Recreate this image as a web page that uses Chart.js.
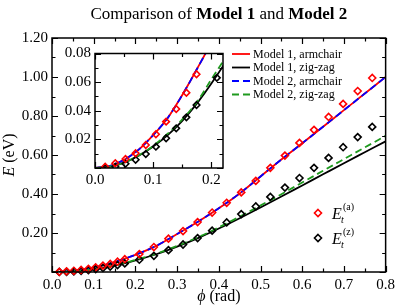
<!DOCTYPE html>
<html>
<head>
<meta charset="utf-8">
<script src="https://cdn.jsdelivr.net/npm/chart.js@4.4.0/dist/chart.umd.min.js"></script>
<style>
html,body{margin:0;padding:0;background:#fff;}
#wrap{position:relative;width:399px;height:308px;}
#main{position:absolute;left:0;top:0;}
#inset{position:absolute;left:50px;top:40px;}
</style>
</head>
<body>
<div id="wrap">
<canvas id="main" width="399" height="308"></canvas>
<canvas id="inset" width="180" height="150"></canvas>
</div>
<script>
// ---- data ----
const markerPhi = [0.0175,0.0349,0.0524,0.0698,0.0873,0.1047,0.1222,0.1396,0.1571,0.1745,0.2094,0.2443,0.2793,0.3142,0.3491,0.3840,0.4189,0.4538,0.4887,0.5236,0.5585,0.5934,0.6283,0.6632,0.6981,0.7330,0.7679];
const armE = [0.0009,0.0033,0.0063,0.0103,0.0161,0.0236,0.0324,0.0412,0.0526,0.0655,0.092,0.128,0.171,0.210,0.256,0.305,0.355,0.408,0.467,0.534,0.597,0.662,0.729,0.795,0.862,0.928,0.995];
const zigE = [0.0003,0.0009,0.0030,0.0058,0.0098,0.0149,0.0208,0.0277,0.0354,0.0440,0.063,0.083,0.112,0.141,0.174,0.212,0.254,0.297,0.336,0.385,0.433,0.482,0.534,0.585,0.640,0.692,0.744];
const linePhi = [0,0.025,0.05,0.075,0.1,0.125,0.15,0.175,0.2,0.25,0.3,0.35,0.4,0.45,0.5,0.55,0.6,0.65,0.7,0.75,0.8];
const m1Arm = [0,0.0014,0.0057,0.0128,0.023,0.035,0.051,0.069,0.088,0.134,0.195,0.258,0.327,0.403,0.49,0.577,0.66,0.745,0.83,0.915,1.0];
const m2Arm = [0,0.0014,0.0057,0.0128,0.023,0.035,0.051,0.069,0.088,0.134,0.195,0.258,0.327,0.403,0.49,0.577,0.66,0.745,0.83,0.915,1.0];
const m1Zig = [0,0.0009,0.0037,0.0085,0.015,0.023,0.033,0.045,0.059,0.091,0.130,0.174,0.223,0.276,0.331,0.387,0.444,0.501,0.558,0.614,0.670];
const m2Zig = [0,0.0009,0.0038,0.0087,0.0155,0.024,0.034,0.046,0.062,0.094,0.134,0.178,0.229,0.284,0.341,0.399,0.459,0.519,0.579,0.639,0.698];
const xTicksMain = [0,0.1,0.2,0.3,0.4,0.5,0.6,0.7,0.8];
const yTicksMain = [0.2,0.4,0.6,0.8,1.0,1.2];
const xTicksInset = [0,0.1,0.2];
const yTicksInset = [0.02,0.04,0.06,0.08];
const seriesNames = ['Model 1, armchair','Model 1, zig-zag','Model 2, armchair','Model 2, zig-zag'];

const RED='#ff0000', BLACK='#000000', BLUE='#0000ff', GREEN='#1f9a1f';
const SERIF = '"Liberation Serif", "DejaVu Serif", serif';
Chart.defaults.font.family = SERIF;
Chart.defaults.color = '#000';

const pts = (xs, ys) => xs.map((x,i)=>({x:x, y:ys[i]}));

function makeDatasets(lw, mr, clipMarkers){
  const line = (lbl, ys, col, dash, ord) => ({
    label: lbl, data: pts(linePhi, ys), borderColor: col, borderWidth: lw,
    borderDash: dash, pointRadius: 0, showLine: true, fill: false,
    cubicInterpolationMode: 'monotone', order: ord
  });
  const mk = (lbl, ys, col) => {
    const d = {
      label: lbl, data: pts(markerPhi, ys), borderColor: col, backgroundColor: 'rgba(0,0,0,0)',
      pointStyle: 'rectRot', pointRadius: mr, pointBorderWidth: 1.6, showLine: false, order: 0
    };
    if (!clipMarkers) d.clip = false;
    return d;
  };
  return [
    line(seriesNames[0], m1Arm, RED, [], 4),
    line(seriesNames[1], m1Zig, BLACK, [], 3),
    line(seriesNames[2], m2Arm, BLUE, [7,4], 2),
    line(seriesNames[3], m2Zig, GREEN, [7,4], 1),
    mk('E_t(a)', armE, RED),
    mk('E_t(z)', zigE, BLACK)
  ];
}

function frameTicks(xMinor, yMinor){
  return {
    id: 'frameTicks',
    afterDatasetsDraw(chart){
      const {ctx, chartArea:a, scales:{x,y}} = chart;
      ctx.save();
      ctx.strokeStyle = '#000';
      ctx.lineWidth = 1.5;
      ctx.strokeRect(a.left, a.top, a.right-a.left, a.bottom-a.top);
      ctx.lineWidth = 1.2;
      const eps = 1e-9;
      for (let v = x.min; v <= x.max + eps; v += xMinor){
        const vv = Math.round(v/xMinor)*xMinor;
        const major = Math.abs(vv/ (xMinor*2) - Math.round(vv/(xMinor*2))) < 1e-6;
        const L = major ? 6 : 3.5;
        const px = Math.round(x.getPixelForValue(vv))+0.5;
        ctx.beginPath();
        ctx.moveTo(px, a.bottom); ctx.lineTo(px, a.bottom-L);
        ctx.moveTo(px, a.top); ctx.lineTo(px, a.top+L);
        ctx.stroke();
      }
      for (let v = y.min; v <= y.max + eps; v += yMinor){
        const vv = Math.round(v/yMinor)*yMinor;
        const major = Math.abs(vv/(yMinor*2) - Math.round(vv/(yMinor*2))) < 1e-6;
        const L = major ? 6 : 3.5;
        const py = Math.round(y.getPixelForValue(vv))+0.5;
        ctx.beginPath();
        ctx.moveTo(a.left, py); ctx.lineTo(a.left+L, py);
        ctx.moveTo(a.right, py); ctx.lineTo(a.right-L, py);
        ctx.stroke();
      }
      ctx.restore();
    }
  };
}

function drawRich(ctx, parts, x, y, align){
  let w = 0;
  parts.forEach(p=>{ ctx.font = p.f; w += ctx.measureText(p.t).width; });
  let cx = align==='center' ? x - w/2 : x;
  parts.forEach(p=>{ ctx.font = p.f; ctx.fillText(p.t, cx, y); cx += ctx.measureText(p.t).width; });
}

const annotations = {
  id: 'annotations',
  afterDraw(chart){
    const {ctx, chartArea:a} = chart;
    ctx.save();
    ctx.fillStyle = '#000';
    ctx.textBaseline = 'alphabetic';
    const cx = (a.left + a.right)/2;
    drawRich(ctx, [
      {t:'Comparison of ', f:'17px '+SERIF},
      {t:'Model 1', f:'bold 17px '+SERIF},
      {t:' and ', f:'17px '+SERIF},
      {t:'Model 2', f:'bold 17px '+SERIF}
    ], cx, 19, 'center');
    drawRich(ctx, [
      {t:'\u03D5', f:'italic 16px '+SERIF},
      {t:' (rad)', f:'16px '+SERIF}
    ], cx, 301, 'center');
    ctx.save();
    ctx.translate(14, (a.top+a.bottom)/2);
    ctx.rotate(-Math.PI/2);
    drawRich(ctx, [
      {t:'E', f:'italic 16px '+SERIF},
      {t:' (eV)', f:'16px '+SERIF}
    ], 0, 0, 'center');
    ctx.restore();
    const rows = [54, 67.5, 81, 94.5];
    const styles = [[RED,[]],[BLACK,[]],[BLUE,[7,4]],[GREEN,[7,4]]];
    rows.forEach((ry,i)=>{
      ctx.strokeStyle = styles[i][0];
      ctx.setLineDash(styles[i][1]);
      ctx.lineWidth = 1.8;
      ctx.beginPath(); ctx.moveTo(232, ry); ctx.lineTo(250, ry); ctx.stroke();
      ctx.setLineDash([]);
      ctx.fillStyle = '#000';
      ctx.font = '12px '+SERIF;
      ctx.textBaseline = 'middle';
      ctx.fillText(seriesNames[i], 253, ry+0.5);
    });
    ctx.textBaseline = 'alphabetic';
    const mrow = [[213, RED, 'a'],[238, BLACK, 'z']];
    mrow.forEach(([my,col,s])=>{
      ctx.strokeStyle = col; ctx.lineWidth = 1.6;
      ctx.beginPath();
      ctx.moveTo(318, my-3.5); ctx.lineTo(321.5, my); ctx.lineTo(318, my+3.5); ctx.lineTo(314.5, my); ctx.closePath();
      ctx.stroke();
      ctx.fillStyle = '#000';
      ctx.font = 'italic 16px '+SERIF;
      ctx.fillText('E', 332, my+6);
      ctx.font = 'italic 10px '+SERIF;
      ctx.fillText('t', 341, my+10);
      ctx.font = '10px '+SERIF;
      ctx.fillText('('+s+')', 343, my-3);
    });
    ctx.restore();
  }
};

const whiteBg = {
  id: 'whiteBg',
  beforeDraw(chart){
    const {ctx, chartArea:a} = chart;
    ctx.save(); ctx.fillStyle='#fff';
    ctx.fillRect(a.left, a.top, a.right-a.left, a.bottom-a.top);
    ctx.restore();
  }
};

new Chart(document.getElementById('main'), {
  type: 'scatter',
  data: { datasets: makeDatasets(1.8, 3.5, false) },
  options: {
    responsive: false, animation: false, devicePixelRatio: 1,
    layout: { padding: { top: 38, right: 11, left: 0, bottom: 0 } },
    plugins: { legend: {display:false}, tooltip: {enabled:false}, title:{display:false} },
    scales: {
      x: {
        type: 'linear', min: 0, max: 0.8,
        grid: { display: false, drawTicks: false }, border: { display: false },
        afterBuildTicks: s => { s.ticks = xTicksMain.map(v=>({value:v})); },
        afterFit: s => { s.height = 36; },
        ticks: { padding: 4, maxRotation: 0, font: { size: 15 }, callback: v => v.toFixed(1) }
      },
      y: {
        type: 'linear', min: 0, max: 1.2,
        grid: { display: false, drawTicks: false }, border: { display: false },
        afterBuildTicks: s => { s.ticks = yTicksMain.map(v=>({value:v})); },
        afterFit: s => { s.width = 52; },
        ticks: { padding: 4, font: { size: 15 }, callback: v => v.toFixed(2) }
      }
    }
  },
  plugins: [frameTicks(0.05, 0.1), annotations]
});

new Chart(document.getElementById('inset'), {
  type: 'scatter',
  data: { datasets: makeDatasets(1.8, 3.3, true) },
  options: {
    responsive: false, animation: false, devicePixelRatio: 1,
    layout: { padding: { top: 13.5, right: 7, left: 0, bottom: 0 } },
    plugins: { legend: {display:false}, tooltip: {enabled:false} },
    scales: {
      x: {
        type: 'linear', min: 0, max: 0.22,
        grid: { display: false, drawTicks: false }, border: { display: false },
        afterBuildTicks: s => { s.ticks = xTicksInset.map(v=>({value:v})); },
        afterFit: s => { s.height = 22; },
        ticks: { padding: 3, maxRotation: 0, font: { size: 15 }, callback: v => v.toFixed(1) }
      },
      y: {
        type: 'linear', min: 0, max: 0.08,
        grid: { display: false, drawTicks: false }, border: { display: false },
        afterBuildTicks: s => { s.ticks = yTicksInset.map(v=>({value:v})); },
        afterFit: s => { s.width = 45; },
        ticks: { padding: 4, font: { size: 15 }, callback: v => v.toFixed(2) }
      }
    }
  },
  plugins: [whiteBg, frameTicks(0.05, 0.01)]
});
</script>
</body>
</html>
